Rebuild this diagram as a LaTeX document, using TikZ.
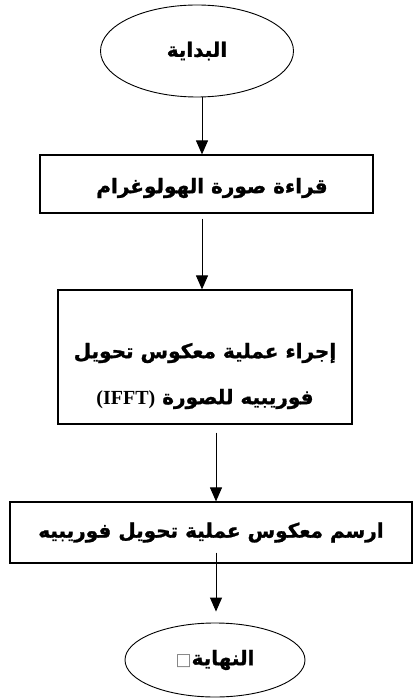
\documentclass[tikz,border=0pt]{standalone}
\usepackage{fontspec}
\usetikzlibrary{shapes.geometric,arrows.meta}
\TeXXeTstate=1
\newfontfamily\arabicfont[Script=Arabic,BoldFeatures={FakeBold=1.2}]{DejaVu Sans}
\newfontfamily\latinfont{Liberation Serif}
\newfontfamily\symfont{DejaVu Sans}
\begin{document}
\begin{tikzpicture}[x=1pt,y=-1pt,
  every node/.style={font=\arabicfont\bfseries\fontsize{20}{46}\selectfont},
  oval/.style={draw,ellipse,line width=0.9pt,inner sep=0pt},
  proc/.style={draw,rectangle,line width=1.2pt,inner sep=0pt,align=center},
  lbl/.style={align=center,inner sep=0pt},
  arr/.style={draw,line width=1pt,-{Triangle[width=12pt,length=14pt]}}]
\useasboundingbox (0,0) rectangle (413,700);
\node[oval,minimum width=193pt,minimum height=92pt] (start) at (197,51) {\beginR البداية\endR};
\node[proc,minimum width=333pt,minimum height=58pt] (b1) at (206.5,184) {};
\node[lbl] (b1t) at (212,188) {\beginR قراءة صورة الهولوغرام\endR};
\node[proc,minimum width=294pt,minimum height=134pt] (b2) at (205,357) {};
\node[lbl] (b2t) at (205,376)
  {\beginR إجراء عملية معكوس تحويل\endR\\ \beginR فوريبيه للصورة \beginL{\latinfont\bfseries (IFFT)}\endL\endR};
\node[proc,minimum width=402pt,minimum height=61pt] (b3) at (211,532.5) {\beginR ارسم معكوس عملية تحويل فوريبيه\endR};
\node[oval,minimum width=180pt,minimum height=74pt] (end) at (215,660)
  {{\symfont\mdseries\fontsize{17}{17}\selectfont\color{gray}□}\beginR النهاية\endR};
\coordinate (c1) at (202,0);
\coordinate (c2) at (216,0);
\draw[arr] (start.south -| c1) -- (b1.north -| c1);
\draw[arr,shorten <=5pt] (b1.south -| c1) -- (b2.north -| c1);
\draw[arr,shorten <=8pt] (b2.south -| c2) -- (b3.north -| c2);
\draw[arr,shorten <=-11pt,shorten >=11pt] (b3.south -| c2) -- (end.north -| c2);
\end{tikzpicture}
\end{document}
